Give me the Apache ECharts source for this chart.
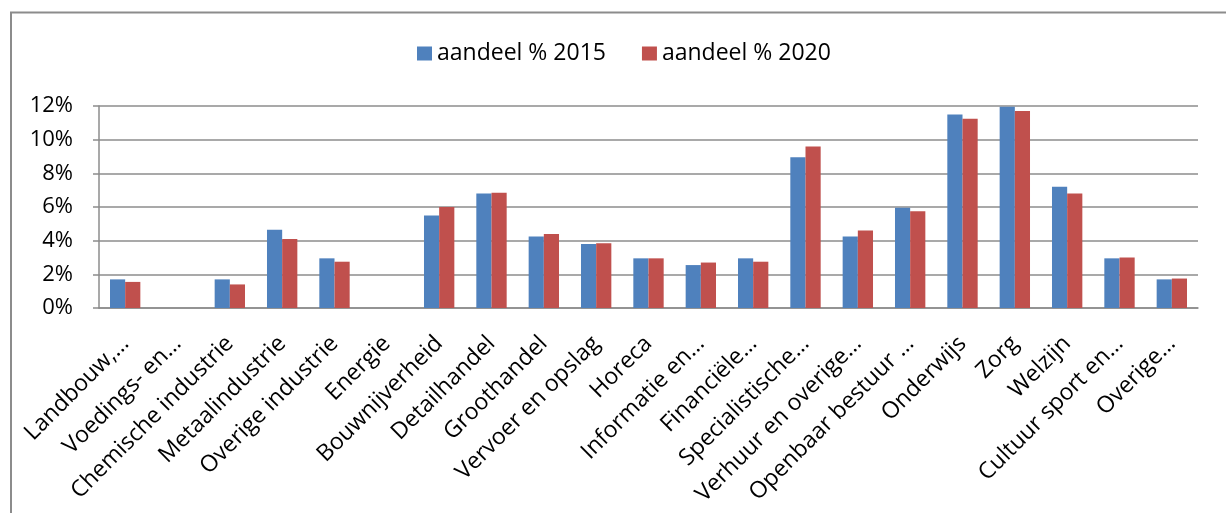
<!DOCTYPE html>
<html>
<head>
<meta charset="utf-8">
<script src="https://cdn.jsdelivr.net/npm/echarts@6/dist/echarts.min.js"></script>
<style>
    html, body { margin: 0; padding: 0; background: #fff; }
    #divChart { width: 1226px; height: 513px; }
</style>
</head>
<body>
<div id="divChart"></div>
<script>
// sectoren (labels afgekapt zoals in het origineel)
var arrSectors = ['Landbouw,…', 'Voedings- en…', 'Chemische industrie', 'Metaalindustrie', 'Overige industrie',
    'Energie', 'Bouwnijverheid', 'Detailhandel', 'Groothandel', 'Vervoer en opslag',
    'Horeca', 'Informatie en…', 'Financiële…', 'Specialistische…', 'Verhuur en overige…',
    'Openbaar bestuur …', 'Onderwijs', 'Zorg', 'Welzijn', 'Cultuur sport en…', 'Overige…'];
// aandeel in procenten
var arr2015 = [1.7, 0, 1.7, 4.65, 2.95, 0, 5.5, 6.8, 4.25, 3.8, 2.95, 2.55, 2.95, 8.95, 4.25, 5.95, 11.5, 11.95, 7.2, 2.95, 1.7];
var arr2020 = [1.55, 0, 1.4, 4.1, 2.75, 0, 6.0, 6.85, 4.4, 3.85, 2.95, 2.7, 2.75, 9.6, 4.6, 5.75, 11.25, 11.7, 6.8, 3.0, 1.75];
var arrSeriesNames = ['aandeel % 2015', 'aandeel % 2020'];
var arrColors = ['#4f81bd', '#c0504d'];

var strFont = '"Open Sans", "Noto Sans", sans-serif';
var chartBar = echarts.init(document.getElementById('divChart'));

var optBar = {
    animation: false,
    textStyle: { fontFamily: strFont },
    graphic: [{
        type: 'rect',
        shape: { x: 11, y: 12.5, width: 1300, height: 600 },
        style: { fill: 'none', stroke: '#8c8c8c', lineWidth: 2 },
        silent: true
    }],
    legend: {
        top: 37,
        left: 412,
        itemWidth: 15,
        itemHeight: 14,
        itemGap: 36,
        icon: 'rect',
        textStyle: { fontSize: 23, color: '#000', fontFamily: strFont },
        data: arrSeriesNames
    },
    grid: {
        left: 99,
        right: 28,
        top: 106,
        bottom: 205,
        containLabel: false
    },
    xAxis: {
        type: 'category',
        data: arrSectors,
        axisLine: { lineStyle: { color: '#8c8c8c', width: 1.5 } },
        axisTick: { length: 8, lineStyle: { color: '#8c8c8c', width: 1.5 } },
        axisLabel: {
            interval: 0,
            rotate: 45,
            fontSize: 23,
            color: '#000',
            margin: 32,
            fontFamily: strFont
        }
    },
    yAxis: {
        type: 'value',
        min: 0,
        max: 12,
        interval: 2,
        axisLine: { show: true, lineStyle: { color: '#8c8c8c', width: 1.5 } },
        axisTick: { show: true, length: 6, lineStyle: { color: '#8c8c8c', width: 1.5 } },
        axisLabel: {
            formatter: '{value}%',
            fontSize: 22,
            color: '#000',
            margin: 26,
            fontFamily: strFont
        },
        splitLine: { lineStyle: { color: '#8c8c8c', width: 1.5 } }
    },
    series: [{
        name: arrSeriesNames[0],
        type: 'bar',
        data: arr2015,
        barGap: '0%',
        barCategoryGap: '42%',
        itemStyle: { color: arrColors[0] }
    }, {
        name: arrSeriesNames[1],
        type: 'bar',
        data: arr2020,
        itemStyle: { color: arrColors[1] }
    }]
};
chartBar.setOption(optBar);
</script>
</body>
</html>
